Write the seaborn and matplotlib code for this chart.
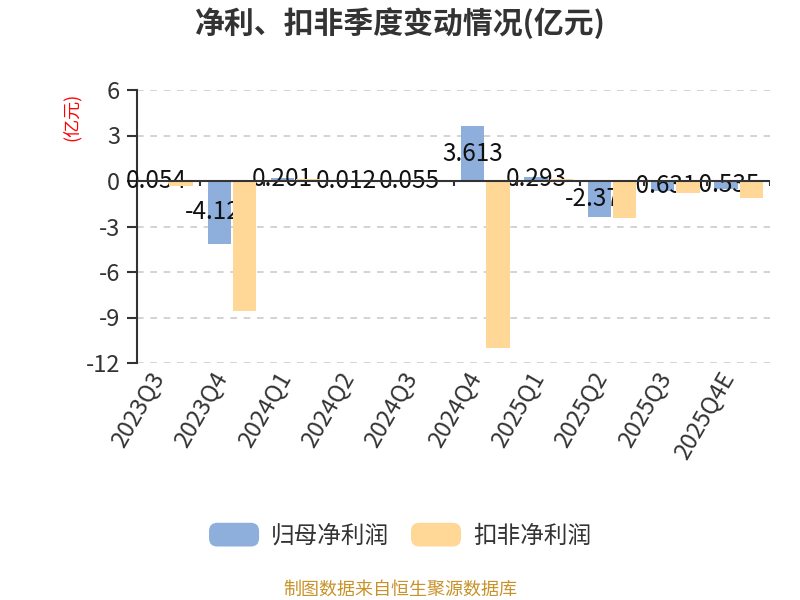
import matplotlib
matplotlib.use("Agg")
import matplotlib.pyplot as plt
import seaborn as sns
import pandas as pd
import numpy as np
from matplotlib.patches import FancyBboxPatch
from matplotlib.legend_handler import HandlerPatch

quarters = ["2023Q3", "2023Q4", "2024Q1", "2024Q2", "2024Q3",
            "2024Q4", "2025Q1", "2025Q2", "2025Q3", "2025Q4E"]
net_profit = [0.054, -4.124, 0.201, 0.012, 0.055, 3.613, 0.293, -2.374, -0.631, -0.535]
deducted_profit = [-0.30, -8.57, 0.15, 0.03, -0.05, -11.0, 0.10, -2.45, -0.82, -1.10]
series_names = ["归母净利润", "扣非净利润"]
colors = ["#8eaedc", "#ffd898"]
yticks = [6, 3, 0, -3, -6, -9, -12]

df = pd.DataFrame({
    "季度": quarters * 2,
    "类型": [series_names[0]] * len(quarters) + [series_names[1]] * len(quarters),
    "值": net_profit + deducted_profit,
})

sns.set_theme(style="white")
plt.rcParams["font.family"] = ["Noto Sans CJK SC", "DejaVu Sans"]
plt.rcParams["axes.unicode_minus"] = False

fig = plt.figure(figsize=(8, 6), dpi=100)
ax = fig.add_axes([0.171, 0.395, 0.792, 0.455])

sns.barplot(data=df, x="季度", y="值", hue="类型", order=quarters,
            hue_order=series_names, palette=dict(zip(series_names, colors)),
            saturation=1, width=0.8, gap=0.08, ax=ax, legend=False,
            edgecolor="none", linewidth=0)

n = len(quarters)
blue_patches = ax.patches[:n]
yellow_patches = ax.patches[n:2 * n]
for p in blue_patches:
    p.set_zorder(2)
for p in yellow_patches:
    p.set_zorder(4)

# labels for net profit, centered inside bars
for p, v in zip(blue_patches, net_profit):
    cx = p.get_x() + p.get_width() / 2
    ax.text(cx, v / 2, f"{v:g}", ha="center", va="center", fontsize=17.5,
            color="#111111", zorder=3)

ax.set_xlim(-0.5, n - 0.5)
ax.set_ylim(-12, 6)
ax.set_yticks(yticks)
ax.set_yticklabels([str(t) for t in yticks])
ax.set_xticks(range(n))
ax.set_xticklabels(quarters, rotation=60, ha="right", va="bottom",
                   rotation_mode="anchor")
ax.tick_params(axis="x", length=0, pad=12, labelsize=17, labelcolor="#333333")
ax.tick_params(axis="y", length=7, width=1.5, color="#333333", direction="out",
               labelsize=17, labelcolor="#333333", pad=5, left=True)
ax.set_xlabel("")
ax.set_ylabel("")

for t in yticks:
    ax.axhline(t, color="#cccccc", lw=1.2, ls=(0, (4, 4)), zorder=1)
ax.axhline(0, color="#333333", lw=1.5, zorder=5)
ax.vlines(np.arange(n + 1) - 0.5, -0.35, 0, color="#333333", lw=1.5, zorder=5)

for s in ["top", "right", "bottom"]:
    ax.spines[s].set_visible(False)
ax.spines["left"].set_color("#333333")
ax.spines["left"].set_linewidth(1.5)
ax.grid(False)

fig.text(0.5, 0.962, "净利、扣非季度变动情况(亿元)", ha="center", va="center",
         fontsize=21.5, fontweight="bold", color="#333333")
fig.text(0.09, 0.805, "(亿元)", rotation=90, ha="center", va="center",
         fontsize=13, color="#ff0000")
fig.text(0.5, 0.017, "制图数据来自恒生聚源数据库", ha="center", va="center",
         fontsize=13, color="#c8922a")


class RoundHandler(HandlerPatch):
    def create_artists(self, legend, orig_handle, xdescent, ydescent,
                       width, height, fontsize, trans):
        p = FancyBboxPatch((-xdescent, -ydescent), width, height,
                           boxstyle="round,pad=0,rounding_size=6",
                           facecolor=orig_handle.get_facecolor(),
                           edgecolor="none", transform=trans)
        return [p]


handles = [blue_patches[0], yellow_patches[0]]
leg = fig.legend(handles, series_names, loc="center", bbox_to_anchor=(0.5, 0.108),
                 ncol=2, frameon=False, fontsize=17, handlelength=2.12,
                 handleheight=1.17, handletextpad=0.5, columnspacing=0.93,
                 handler_map={type(blue_patches[0]): RoundHandler()})
for t in leg.get_texts():
    t.set_color("#333333")

fig.savefig("out.png", dpi=100)
